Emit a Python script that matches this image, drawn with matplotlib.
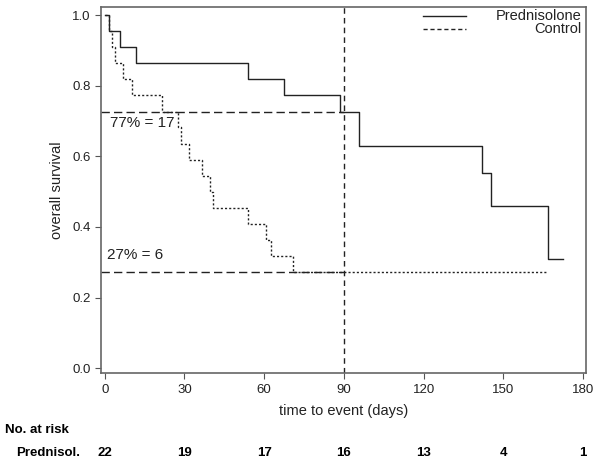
import numpy as np
import matplotlib.pyplot as plt
from matplotlib.transforms import blended_transform_factory

plt.rcParams['font.family'] = ['Liberation Sans', 'DejaVu Sans']

# Kaplan-Meier curves
pred_t = [0, 1.6, 5.8, 11.8, 53.9, 67.4, 88.5, 95.6, 142.1, 145.4, 167.0, 172.3]
pred_s = [1.0, 0.955, 0.909, 0.864, 0.818, 0.773, 0.727, 0.628, 0.552, 0.460, 0.309, 0.309]

ctrl_t = [0, 1.6, 2.6, 4.0, 6.8, 10.3, 21.7, 27.6, 28.8, 31.6, 36.6, 39.5, 40.7,
          53.8, 60.8, 62.7, 70.7, 166.0]
ctrl_s = [1.0, 0.955, 0.909, 0.864, 0.818, 0.773, 0.727, 0.682, 0.636, 0.591, 0.545,
          0.5, 0.455, 0.409, 0.364, 0.318, 0.273, 0.273]

# landmark at 90 days
landmark_day = 90
landmark_pred = 0.727
landmark_ctrl = 0.273
landmark_labels = ["77% = 17", "27% = 6"]

# number at risk
risk_days = [0, 30, 60, 90, 120, 150, 180]
risk_pred = [22, 19, 17, 16, 13, 4, 1]

fig = plt.figure(figsize=(6, 4.67), dpi=100)
ax = fig.add_axes([0.168, 0.201, 0.809, 0.784])

ax.step(pred_t, pred_s, where='post', color='#222222', linewidth=1.0)
ax.step(ctrl_t, ctrl_s, where='post', color='#222222', linewidth=1.0,
        linestyle=(0, (1.5, 1.5)))

xmin, xmax = -1.5, 181.2
ax.set_xlim(xmin, xmax)
ax.set_ylim(-0.014, 1.023)

# landmark lines
ax.hlines([landmark_pred, landmark_ctrl], xmin, landmark_day, color='#222222',
          linewidth=1.0, linestyles=[(0, (6, 3))])
ax.axvline(landmark_day, color='#222222', linewidth=1.0, linestyle=(0, (4, 3)))

ax.text(2.1, 0.694, landmark_labels[0], fontsize=11, va='center', ha='left',
        color='#222222')
ax.text(0.8, 0.321, landmark_labels[1], fontsize=11, va='center', ha='left',
        color='#222222')

# axes styling
ax.set_xticks(risk_days)
ax.set_yticks([0.0, 0.2, 0.4, 0.6, 0.8, 1.0])
ax.set_yticklabels(['0.0', '0.2', '0.4', '0.6', '0.8', '1.0'])
ax.tick_params(direction='out', length=4, width=0.8, labelsize=9.5,
               colors='#555555', labelcolor='#222222')
for sp in ax.spines.values():
    sp.set_color('#666666')
    sp.set_linewidth(1.2)

ax.set_xlabel('time to event (days)', fontsize=10.5, color='#222222', labelpad=6)
ax.set_ylabel('overall survival', fontsize=10.5, color='#222222', labelpad=6)

# legend drawn by hand (text right aligned)
ax.plot([0.663, 0.752], [0.975, 0.975], transform=ax.transAxes, color='#222222',
        linewidth=1.0)
ax.plot([0.663, 0.752], [0.94, 0.94], transform=ax.transAxes, color='#222222',
        linewidth=1.0, linestyle=(0, (3, 2)))
ax.text(0.991, 0.975, 'Prednisolone', transform=ax.transAxes, ha='right',
        va='center', fontsize=10.5, color='#222222')
ax.text(0.991, 0.94, 'Control', transform=ax.transAxes, ha='right',
        va='center', fontsize=10.5, color='#222222')

# number at risk table
fig.text(0.008, 0.079, 'No. at risk', fontsize=9.5, fontweight='bold',
         va='center', ha='left')
fig.text(0.027, 0.030, 'Prednisol.', fontsize=9.5, fontweight='bold',
         va='center', ha='left')
trans = blended_transform_factory(ax.transData, fig.transFigure)
for d, n in zip(risk_days, risk_pred):
    ax.text(d, 0.030, str(n), transform=trans, fontsize=9.5, fontweight='bold',
            ha='center', va='center', clip_on=False)

fig.savefig('out.png', dpi=100)
